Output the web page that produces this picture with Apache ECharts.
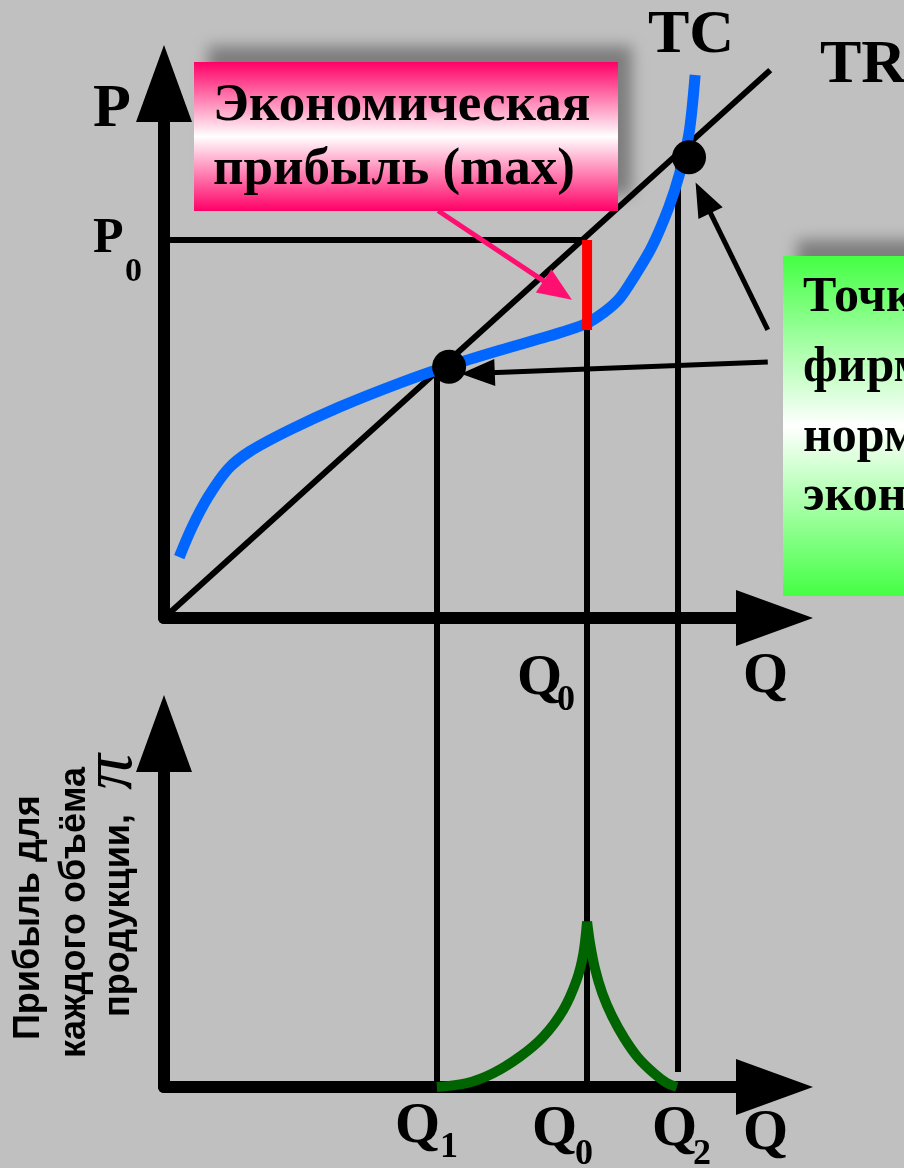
<!DOCTYPE html>
<html lang="ru">
<head>
<meta charset="utf-8">
<title>TR и TC: экономическая прибыль</title>
<script src="https://cdn.jsdelivr.net/npm/echarts@6/dist/echarts.min.js"></script>
<style>
  html, body { margin: 0; padding: 0; background: #c0c0c0; }
  #chart { width: 904px; height: 1168px; }
</style>
</head>
<body>
<div id="chart"></div>
<script>
/* =========================================
   1. DATA
   ========================================= */
// quantities and price level (x: 0..100, y: 0..100 in both panels)
const Q1 = 44.6;
const Q0 = 69.3;
const Q2 = 84.2;
const P0 = 70.7;

// total revenue: straight line from the origin
const trLine = [[0, 0], [99.3, 102.5]];

// total cost curve
const tcCurve = [
  [2.5, 11.4], [4.6, 17.0], [7.2, 22.6], [10.5, 27.9], [14.1, 31.2],
  [20.6, 35.2], [28.8, 39.5], [38.7, 44.0], [46.7, 47.2], [55.0, 50.1],
  [63.2, 52.8], [69.0, 55.0], [72.2, 57.3], [74.7, 59.9], [77.0, 63.8],
  [79.9, 69.4], [82.7, 76.9], [84.5, 83.3], [86.0, 90.7], [87.0, 101.6]
];

// break-even points (TR = TC)
const breakEven = [[46.7, 47.0], [86.0, 86.2]];

// bottom of the max profit gap at Q0 (on TC)
const tcAtQ0 = 53.9;

// profit for every output level (lower panel)
const profitRise = [
  [44.7, 0], [49.6, 1.1], [53.9, 3.9], [58.3, 8.6], [62.1, 14.2],
  [65.4, 21.8], [67.6, 30.3], [68.7, 37.8], [69.3, 46.8]
];
const profitFall = [
  [69.3, 46.8], [69.8, 40.5], [70.6, 33.5], [71.8, 26.5], [73.4, 20.0],
  [75.4, 13.8], [77.7, 8.2], [80.3, 3.8], [82.3, 1.2], [84.0, 0]
];

// callout arrows: [from, to] in top panel units
const arrowMaxProfit = [[44.9, 76.2], [64.5, 61.3]];
const arrowsBreakEven = [
  [[98.9, 53.9], [88.3, 78.6]],
  [[98.9, 47.9], [51.4, 45.8]]
];

// texts
const profitBoxLines = ["Экономическая", "прибыль (max)"];
const breakEvenBoxLines = ["Точки безубыточности", "фирмы: прибыль", "нормальная,", "экономическая = 0"];
const profitAxisLines = ["Прибыль для", "каждого объёма", "продукции,"];

/* =========================================
   2. LAYOUT
   ========================================= */
const AXIS_X = 164;
const TOP_AXIS_Y = 618;
const BOTTOM_AXIS_Y = 1087;
const PLOT_W = 610.5;
const TOP_H = 534.5;
const BOTTOM_H = 353.5;

// how far below the upper Q axis the drop lines reach (in top panel units)
const topUnit = TOP_H / 100;
const dropToProfitAxis = -(BOTTOM_AXIS_Y - TOP_AXIS_Y) / topUnit;
const dropQ2 = -(BOTTOM_AXIS_Y - 15 - TOP_AXIS_Y) / topUnit;

const SERIF = '"Liberation Serif", "Times New Roman", serif';
const SANS = '"Liberation Sans", Arial, sans-serif';

function axisPair(gridIndex) {
  const line = {
    show: true,
    onZero: true,
    symbol: ["none", "triangle"],
    symbolSize: [56, 77],
    lineStyle: { color: "#000", width: 12 }
  };
  const common = {
    type: "value", gridIndex: gridIndex, min: 0, max: 100,
    axisLine: line, axisTick: { show: false }, axisLabel: { show: false },
    splitLine: { show: false }
  };
  return [common, Object.assign({}, common)];
}

function label(text, x, y, size, extra) {
  return Object.assign({
    type: "text", x: x, y: y, z: 20,
    style: {
      text: text,
      font: "bold " + size + "px " + SERIF,
      fill: "#000",
      textAlign: "left",
      textVerticalAlign: "middle"
    }
  }, extra || {});
}

function sideLabel(text, x, y) {
  return {
    type: "text", x: x, y: y, z: 20, rotation: Math.PI / 2,
    style: {
      text: text,
      font: "bold 36px " + SANS,
      fill: "#000",
      textAlign: "left",
      textVerticalAlign: "middle"
    }
  };
}

function calloutBox(x, y, w, h, edge) {
  return {
    type: "rect", z: 15,
    shape: { x: x, y: y, width: w, height: h },
    style: {
      fill: new echarts.graphic.LinearGradient(0, 0, 0, 1, [
        { offset: 0, color: edge },
        { offset: 0.5, color: "#ffffff" },
        { offset: 1, color: edge }
      ]),
      shadowBlur: 14,
      shadowOffsetX: 14,
      shadowOffsetY: -16,
      shadowColor: "rgba(0,0,0,0.35)"
    }
  };
}

/* =========================================
   3. CHART
   ========================================= */
function initChart() {
  const chart = echarts.init(document.getElementById("chart"), null, { renderer: "canvas" });
  const topAxes = axisPair(0);
  const bottomAxes = axisPair(1);

  const graphics = [
    calloutBox(194, 62, 424, 149, "#ff0066"),
    calloutBox(783, 256, 220, 340, "#44ff44"),

    label(profitBoxLines[0], 213, 106, 53),
    label(profitBoxLines[1], 213, 170, 53),

    label(breakEvenBoxLines[0], 803, 298, 50),
    label(breakEvenBoxLines[1], 803, 368, 50),
    label(breakEvenBoxLines[2], 803, 438, 50),
    label(breakEvenBoxLines[3], 803, 497, 50),

    label("TC", 648, 36, 62),
    label("TR", 820, 66, 62),
    label("P", 93, 110, 62),
    label("P", 93, 239, 50),
    label("0", 125, 272, 34),

    label("Q", 743, 677, 58),
    label("Q", 517, 679, 58),
    label("0", 557, 701, 36),

    label("Q", 395, 1127, 58),
    label("1", 440, 1148, 36),
    label("Q", 532, 1130, 58),
    label("0", 575, 1155, 36),
    label("Q", 652, 1130, 58),
    label("2", 693, 1155, 36),
    label("Q", 743, 1134, 58),

    // rotated axis name of the lower panel
    sideLabel(profitAxisLines[0], 29, 1040),
    sideLabel(profitAxisLines[1], 75, 1058),
    sideLabel(profitAxisLines[2], 119, 1017),
    {
      type: "text", x: 112, y: 772, z: 20, rotation: Math.PI / 2,
      style: {
        text: "π", font: "italic 72px " + SERIF, fill: "#000",
        textAlign: "center", textVerticalAlign: "middle"
      }
    }
  ];

  const option = {
    backgroundColor: "#c0c0c0",
    animation: false,
    grid: [
      { left: AXIS_X, top: TOP_AXIS_Y - TOP_H, width: PLOT_W, height: TOP_H },
      { left: AXIS_X, top: BOTTOM_AXIS_Y - BOTTOM_H, width: PLOT_W, height: BOTTOM_H }
    ],
    xAxis: [topAxes[0], bottomAxes[0]],
    yAxis: [topAxes[1], bottomAxes[1]],
    series: [
      {
        // P0 level and the Q drop lines
        type: "lines", coordinateSystem: "cartesian2d", xAxisIndex: 0, yAxisIndex: 0,
        clip: false, z: 2, symbol: "none",
        lineStyle: { color: "#000", width: 6, opacity: 1, curveness: 0 },
        data: [
          { coords: [[0, P0], [Q0, P0]] },
          { coords: [[Q0, P0], [Q0, dropToProfitAxis]] },
          { coords: [[Q1, breakEven[0][1]], [Q1, dropToProfitAxis]] },
          { coords: [[Q2, breakEven[1][1]], [Q2, dropQ2]] }
        ]
      },
      {
        name: "TR", type: "line", xAxisIndex: 0, yAxisIndex: 0, clip: false, z: 3,
        showSymbol: false, symbol: "none",
        lineStyle: { color: "#000", width: 6 },
        data: trLine
      },
      {
        name: "TC", type: "line", xAxisIndex: 0, yAxisIndex: 0, clip: false, z: 4,
        showSymbol: false, symbol: "none", smooth: 0.3,
        lineStyle: { color: "#0066ff", width: 11 },
        data: tcCurve
      },
      {
        name: "max profit", type: "line", xAxisIndex: 0, yAxisIndex: 0, clip: false, z: 5,
        showSymbol: false, symbol: "none",
        lineStyle: { color: "#ff0000", width: 10 },
        data: [[Q0, P0], [Q0, tcAtQ0]]
      },
      {
        type: "lines", coordinateSystem: "cartesian2d", xAxisIndex: 0, yAxisIndex: 0,
        clip: false, z: 6,
        symbol: ["none", "triangle"], symbolSize: [0, [28, 34]],
        lineStyle: { color: "#ff1070", width: 5, opacity: 1, curveness: 0 },
        data: [{ coords: arrowMaxProfit }]
      },
      {
        type: "lines", coordinateSystem: "cartesian2d", xAxisIndex: 0, yAxisIndex: 0,
        clip: false, z: 6,
        symbol: ["none", "triangle"], symbolSize: [0, [27, 34]],
        lineStyle: { color: "#000", width: 5, opacity: 1, curveness: 0 },
        data: arrowsBreakEven.map((c) => ({ coords: c }))
      },
      {
        name: "break-even", type: "scatter", xAxisIndex: 0, yAxisIndex: 0, z: 8,
        symbolSize: 34, itemStyle: { color: "#000", opacity: 1 },
        data: breakEven
      },
      {
        name: "profit", type: "line", xAxisIndex: 1, yAxisIndex: 1, clip: false, z: 5,
        showSymbol: false, symbol: "none", smooth: 0.3,
        lineStyle: { color: "#006400", width: 10 },
        data: profitRise
      },
      {
        name: "profit", type: "line", xAxisIndex: 1, yAxisIndex: 1, clip: false, z: 5,
        showSymbol: false, symbol: "none", smooth: 0.3,
        lineStyle: { color: "#006400", width: 10 },
        data: profitFall
      }
    ],
    graphic: { elements: graphics }
  };

  chart.setOption(option);
}

document.addEventListener("DOMContentLoaded", () => {
  initChart();
});
</script>
</body>
</html>
